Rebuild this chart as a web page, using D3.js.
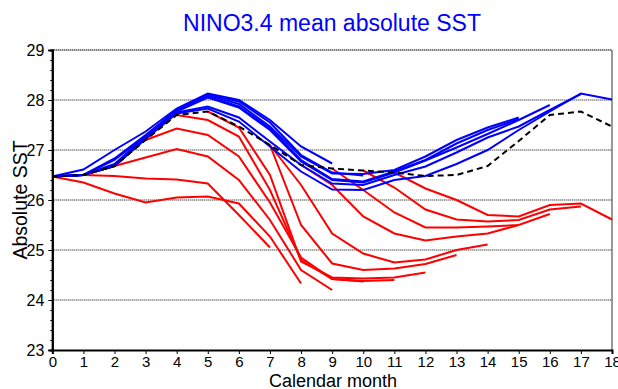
<!DOCTYPE html>
<html><head><meta charset="utf-8">
<script src="https://cdn.jsdelivr.net/npm/d3@7"></script>
<style>body{margin:0;background:#fff}svg{display:block}</style>
</head><body><svg id="c" width="618" height="389"></svg>
<script>
// ---- data ----
const months = d3.range(0, 19);
const yTicks = [23, 24, 25, 26, 27, 28, 29];
const climatology = [26.47, 26.5, 26.68, 27.2, 27.7, 27.77, 27.47, 27.1, 26.7, 26.63, 26.59, 26.55, 26.48, 26.5, 26.68, 27.18, 27.7, 27.77, 27.47];

const blueStart = [0, 0, 0, 0, 0, 0, 0];
const blueValues = [
  [26.47, 26.61, 27.0, 27.37, 27.83, 28.13, 28.0, 27.6, 27.07, 26.73],
  [26.47, 26.5, 26.83, 27.3, 27.8, 28.12, 27.97, 27.55, 26.9, 26.55, 26.49],
  [26.47, 26.5, 26.8, 27.28, 27.8, 28.1, 27.92, 27.47, 26.87, 26.53, 26.52, 26.6, 26.87, 27.2, 27.45, 27.65],
  [26.47, 26.5, 26.72, 27.27, 27.78, 28.07, 27.87, 27.43, 26.8, 26.42, 26.37, 26.57, 26.8, 27.13, 27.4, 27.62],
  [26.47, 26.5, 26.68, 27.25, 27.77, 28.05, 27.85, 27.4, 26.77, 26.4, 26.35, 26.55, 26.79, 27.05, 27.32, 27.6, 27.9],
  [26.47, 26.5, 26.68, 27.23, 27.75, 27.87, 27.65, 27.17, 26.7, 26.33, 26.3, 26.5, 26.67, 26.95, 27.25, 27.47, 27.8, 28.12],
  [26.47, 26.5, 26.68, 27.22, 27.73, 27.83, 27.57, 27.07, 26.57, 26.21, 26.2, 26.4, 26.48, 26.72, 27.0, 27.4, 27.77, 28.13, 28.01]
];

const redStart = [1, 0, 2, 3, 4, 5, 7, 7, 8, 9, 10, 11];
const redValues = [
  [26.5, 26.48, 26.43, 26.41, 26.33, 25.7, 25.05],
  [26.47, 26.35, 26.13, 25.95, 26.05, 26.07, 25.93, 25.27, 24.33],
  [26.68, 26.85, 27.02, 26.87, 26.4, 25.6, 24.6, 24.2],
  [27.2, 27.43, 27.3, 26.87, 25.95, 24.85, 24.42, 24.37],
  [27.7, 27.6, 27.27, 26.2, 24.8, 24.42, 24.38, 24.4],
  [27.77, 27.45, 26.5, 24.77, 24.45, 24.43, 24.45, 24.55],
  [27.1, 25.5, 24.73, 24.6, 24.63, 24.72, 24.9],
  [27.1, 26.3, 25.33, 24.93, 24.75, 24.81, 25.0, 25.11],
  [26.7, 26.3, 25.67, 25.33, 25.19, 25.27, 25.33, 25.5],
  [26.63, 26.2, 25.75, 25.45, 25.45, 25.47, 25.5, 25.72],
  [26.59, 26.25, 25.81, 25.61, 25.57, 25.6, 25.81, 25.87],
  [26.55, 26.23, 26.0, 25.7, 25.67, 25.9, 25.93, 25.61]
];

// ---- chart ----
const svg = d3.select('#c');
const x = d3.scaleLinear().domain([0, 18]).range([52.3, 612]);
const y = d3.scaleLinear().domain([23, 29]).range([350, 50]);
const font = 'Liberation Sans, Arial, sans-serif';

// grid
svg.append('g').selectAll('line').data(yTicks.filter(d => d > 23 && d < 29)).join('line')
  .attr('x1', x(0)).attr('x2', x(18)).attr('y1', d => y(d)).attr('y2', d => y(d))
  .attr('stroke', '#000').attr('stroke-width', 1).attr('stroke-dasharray', '1,1');
svg.append('line').attr('x1', x(0)).attr('x2', x(18)).attr('y1', y(29)).attr('y2', y(29))
  .attr('stroke', '#444').attr('stroke-width', 2).attr('stroke-dasharray', '1,1');
svg.append('line').attr('x1', x(18)).attr('x2', x(18)).attr('y1', y(29)).attr('y2', y(23))
  .attr('stroke', '#333').attr('stroke-width', 1);

const line = d3.line().x(d => x(d[0])).y(d => y(d[1]));
const toPts = (start, vals) => vals.map((v, i) => [start + i, v]);

svg.append('g').selectAll('path').data(redValues).join('path')
  .attr('d', (v, i) => line(toPts(redStart[i], v)))
  .attr('fill', 'none').attr('stroke', '#ff0000').attr('stroke-width', 2);
svg.append('g').selectAll('path').data(blueValues).join('path')
  .attr('d', (v, i) => line(toPts(blueStart[i], v)))
  .attr('fill', 'none').attr('stroke', '#0000ff').attr('stroke-width', 2);
svg.append('path').attr('d', line(toPts(0, climatology)))
  .attr('fill', 'none').attr('stroke', '#000').attr('stroke-width', 2).attr('stroke-dasharray', '6,4');

// axes
const yAxis = d3.axisLeft(y).tickValues(yTicks).tickSize(4).tickFormat(d3.format('d'));
const yMinor = d3.axisLeft(y).tickValues(d3.range(23, 29.001, 0.2)).tickSize(2).tickFormat('');
const xAxis = d3.axisBottom(x).tickValues(months).tickSize(4).tickPadding(2).tickFormat(d3.format('d'));
const gy2 = svg.append('g').attr('transform', `translate(${x(0)},0)`).call(yMinor);
const gy = svg.append('g').attr('transform', `translate(${x(0)},0)`).call(yAxis);
const gx = svg.append('g').attr('transform', `translate(0,${y(23)})`).call(xAxis);
[gy, gy2, gx].forEach(g => {
  g.select('.domain').attr('stroke', '#000').attr('stroke-width', 2);
  g.selectAll('.tick line').attr('stroke', '#000').attr('stroke-width', 1);
  g.selectAll('text').attr('font-family', font).attr('font-size', 16).attr('fill', '#000');
});
gx.selectAll('text').attr('font-size', 15);
gy.selectAll('text').attr('dx', '-1');

svg.append('text').attr('x', 332).attr('y', 31).attr('text-anchor', 'middle')
  .attr('font-family', font).attr('font-size', 23).attr('fill', '#0000ff')
  .text('NINO3.4 mean absolute SST');
svg.append('text').attr('transform', 'translate(27,200) rotate(-90)').attr('text-anchor', 'middle')
  .attr('font-family', font).attr('font-size', 19.5).attr('fill', '#000').text('Absolute SST');
svg.append('text').attr('x', 333).attr('y', 386.5).attr('text-anchor', 'middle')
  .attr('font-family', font).attr('font-size', 18).attr('fill', '#000').text('Calendar month');
</script></body></html>
